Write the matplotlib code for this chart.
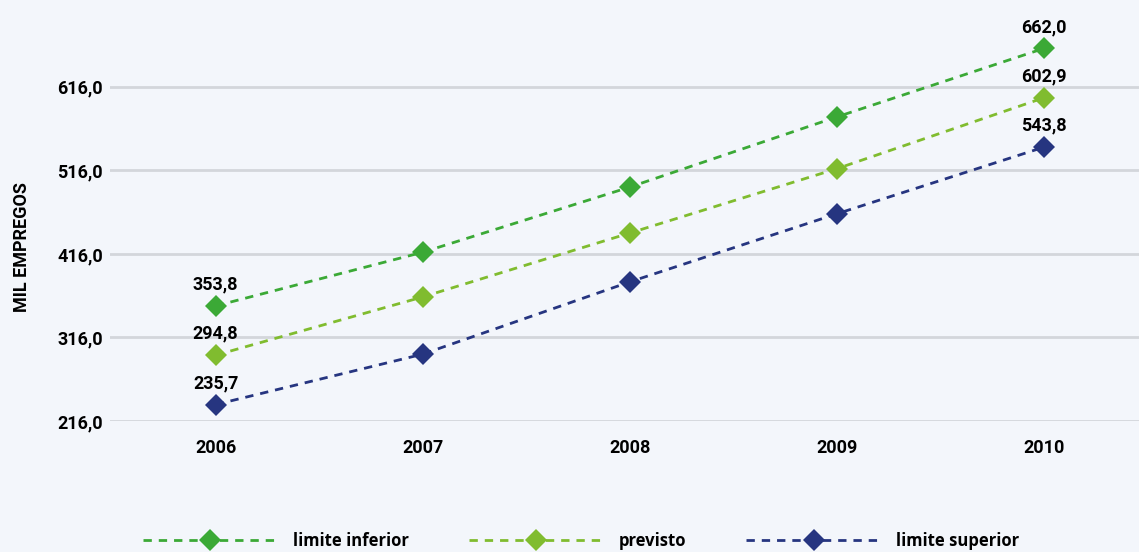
import matplotlib.pyplot as plt

plt.rcParams['font.family'] = ['Roboto', 'DejaVu Sans']

# data
years = [2006, 2007, 2008, 2009, 2010]
lim_inf = [353.8, 418.0, 496.0, 580.0, 662.0]
previsto = [294.8, 364.5, 441.0, 518.0, 602.9]
lim_sup = [235.7, 296.0, 382.5, 464.0, 543.8]
yticks = [216.0, 316.0, 416.0, 516.0, 616.0]

series = [
    (lim_inf, '#3ba936', 'limite inferior'),
    (previsto, '#80bc2f', 'previsto'),
    (lim_sup, '#263580', 'limite superior'),
]

bg = '#f3f6fb'
fig = plt.figure(figsize=(11.39, 5.52), dpi=100, facecolor=bg)
ax = fig.add_axes([0.0966, 0.2373, 0.9034, 0.7627], facecolor=bg)

for vals, col, lab in series:
    ax.plot(years, vals, color=col, lw=2, ls=(0, (3, 2.5)), marker='D',
            ms=11, mew=0, label=lab, zorder=3)

# labels only on first and last points
for vals, col, lab in series:
    for i in (0, len(years) - 1):
        ax.annotate(f'{vals[i]:.1f}'.replace('.', ','), (years[i], vals[i]),
                    xytext=(0, 9), textcoords='offset points',
                    ha='center', va='bottom', fontsize=13, fontweight='bold')

ax.set_xlim(2005.49, 2010.46)
ax.set_ylim(216, 720)
ax.set_yticks(yticks)
ax.set_yticklabels([f'{t:.1f}'.replace('.', ',') for t in yticks],
                   fontsize=13, fontweight='bold')
ax.set_xticks(years)
ax.set_xticklabels([str(y) for y in years], fontsize=13, fontweight='bold')
ax.tick_params(length=0, pad=5)
ax.tick_params(axis='x', pad=13)
ax.grid(axis='y', color='#d3d6db', lw=2)
ax.set_axisbelow(True)
for s in ax.spines.values():
    s.set_visible(False)

fig.text(0.019, 0.552, 'MIL EMPREGOS', rotation=90, ha='center', va='center',
         fontsize=13, fontweight='bold')

fig.legend(loc='center', bbox_to_anchor=(0.51, 0.02), ncol=3, frameon=False,
           handlelength=8.1, handletextpad=0.9, columnspacing=3.6,
           numpoints=1, prop={'family': 'Open Sans', 'size': 12, 'weight': 'bold'})

fig.savefig('out.png', dpi=100, facecolor=bg)
